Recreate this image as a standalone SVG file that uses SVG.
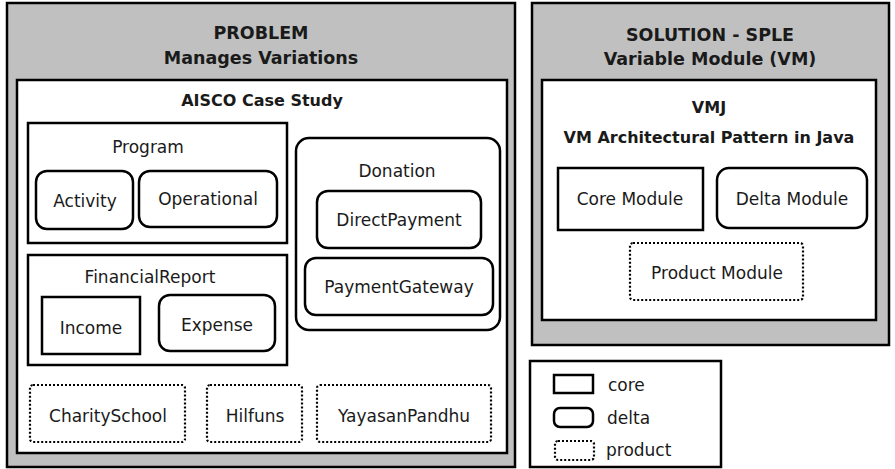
<svg xmlns="http://www.w3.org/2000/svg" width="895" height="469" viewBox="0 0 895 469">
<style>
.outer{fill:#c0c0c0;stroke:#000;stroke-width:2.5}
.inner{fill:#fff;stroke:#000;stroke-width:2.5}
.core{fill:#fff;stroke:#000;stroke-width:2.5}
.delta{fill:#fff;stroke:#000;stroke-width:2.5}
.prod{fill:#fff;stroke:#000;stroke-width:2.2;stroke-dasharray:2 2}
text{font-family:"DejaVu Sans","Liberation Sans",sans-serif;fill:#1a1a1a}
.t{font-size:17px;text-anchor:middle}
.tl{font-size:17px}
.h{font-size:17.5px;font-weight:bold;text-anchor:middle}
.h2{font-size:16px;font-weight:bold;text-anchor:middle}
</style>
<rect width="895" height="469" fill="#fff"/>
<g id="problem">
<rect class="outer" x="7" y="3" width="508" height="464"/>
<text class="h" x="261" y="39">PROBLEM</text>
<text class="h" x="261" y="64">Manages Variations</text>
</g>
<g id="aisco">
<rect class="inner" x="17" y="80" width="490" height="373"/>
<text class="h2" x="262" y="106">AISCO Case Study</text>
</g>
<g id="program">
<rect class="core" x="28" y="123" width="259" height="120"/>
<text class="t" x="148" y="153">Program</text>
</g>
<g id="activity">
<rect class="delta" x="36" y="171" width="97" height="58" rx="11"/>
<text class="t" x="85" y="207">Activity</text>
</g>
<g id="operational">
<rect class="delta" x="139" y="171" width="138" height="56" rx="11"/>
<text class="t" x="208" y="205">Operational</text>
</g>
<g id="financialreport">
<rect class="core" x="28" y="255" width="259" height="110"/>
<text class="t" x="150" y="283">FinancialReport</text>
</g>
<g id="income">
<rect class="core" x="42" y="297" width="98" height="57"/>
<text class="t" x="91" y="334">Income</text>
</g>
<g id="expense">
<rect class="delta" x="159" y="295" width="116" height="56" rx="11"/>
<text class="t" x="217" y="331">Expense</text>
</g>
<g id="donation">
<rect class="delta" x="296" y="138" width="204" height="192" rx="13"/>
<text class="t" x="397" y="177">Donation</text>
</g>
<g id="directpayment">
<rect class="delta" x="317" y="191" width="164" height="57" rx="11"/>
<text class="t" x="399" y="226">DirectPayment</text>
</g>
<g id="paymentgateway">
<rect class="delta" x="305" y="258" width="188" height="57" rx="11"/>
<text class="t" x="399" y="293">PaymentGateway</text>
</g>
<g id="charityschool">
<rect class="prod" x="30" y="385" width="155" height="57" rx="3"/>
<text class="t" x="108" y="422">CharitySchool</text>
</g>
<g id="hilfuns">
<rect class="prod" x="207" y="385" width="95" height="57" rx="3"/>
<text class="t" x="255" y="422">Hilfuns</text>
</g>
<g id="yayasanpandhu">
<rect class="prod" x="317" y="385" width="174" height="57" rx="3"/>
<text class="t" x="404" y="422">YayasanPandhu</text>
</g>
<g id="solution">
<rect class="outer" x="532" y="3" width="357" height="342"/>
<text class="h" x="710" y="41">SOLUTION - SPLE</text>
<text class="h" x="710" y="65">Variable Module (VM)</text>
</g>
<g id="vmj">
<rect class="inner" x="542" y="80" width="334" height="240"/>
<text class="h2" x="709" y="113">VMJ</text>
<text class="h2" x="709" y="143">VM Architectural Pattern in Java</text>
</g>
<g id="coremodule">
<rect class="core" x="558" y="168" width="145" height="62"/>
<text class="t" x="630" y="205">Core Module</text>
</g>
<g id="deltamodule">
<rect class="delta" x="717" y="168" width="150" height="60" rx="12"/>
<text class="t" x="792" y="205">Delta Module</text>
</g>
<g id="productmodule">
<rect class="prod" x="630" y="243" width="173" height="57" rx="3"/>
<text class="t" x="717" y="279">Product Module</text>
</g>
<g id="connectors"></g>
<g id="legend">
<rect x="530" y="361" width="191" height="106" fill="#fff" stroke="#000" stroke-width="2.5"/>
<rect class="core" x="554" y="375" width="39" height="18"/>
<text class="tl" x="608" y="391">core</text>
<rect class="delta" x="554" y="408" width="39" height="19" rx="6"/>
<text class="tl" x="607" y="424">delta</text>
<rect class="prod" x="555" y="441" width="39" height="19" rx="3"/>
<text class="tl" x="606" y="456">product</text>
</g>
</svg>
